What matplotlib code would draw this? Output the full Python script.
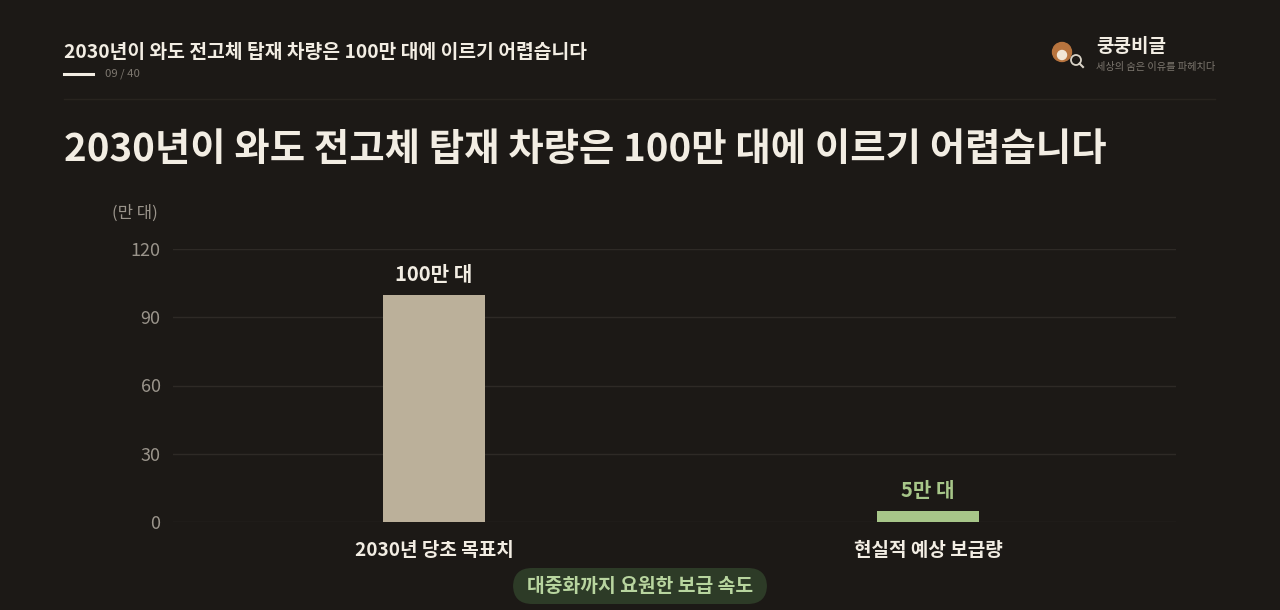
import matplotlib
matplotlib.use("Agg")
import matplotlib.pyplot as plt
from matplotlib.patches import FancyBboxPatch, Ellipse
from matplotlib.lines import Line2D

plt.rcParams['font.family'] = ['Noto Sans CJK KR', 'DejaVu Sans']

# data
categories = ["2030년 당초 목표치", "현실적 예상 보급량"]
values = [100, 5]
value_labels = ["100만 대", "5만 대"]
yticks = [0, 30, 60, 90, 120]

bg = "#1c1916"
bar_colors = ["#bbb09a", "#a7c689"]
label_colors = ["#f2ede3", "#a7c689"]

W, H = 1280, 610
fig = plt.figure(figsize=(W / 100, H / 100), dpi=100, facecolor=bg)


def fx(px):
    return px / W


def fy(py):
    return 1 - py / H


def dot(cx, cy, d, **kw):
    # round mark given in pixels
    fig.add_artist(Ellipse((fx(cx), fy(cy)), d / W, d / H,
                           transform=fig.transFigure, **kw))


# header
fig.text(fx(64), fy(53), "2030년이 와도 전고체 탑재 차량은 100만 대에 이르기 어렵습니다",
         color="#f2ede3", fontsize=13.85, fontweight="bold", va="center", ha="left")
fig.add_artist(Line2D([fx(64), fx(93)], [fy(74), fy(74)], color="#f2ede3", lw=2.2))
fig.text(fx(105), fy(74), "09 / 40", color="#7d776f", fontsize=8.2, va="center", ha="left")
fig.add_artist(Line2D([fx(64), fx(1215)], [fy(99), fy(99)], color="#28241f", lw=1))

# logo
dot(1062, 52, 19, color="#b8743e", zorder=3)
dot(1062, 55, 9, color="#f1e6d6", zorder=4)
dot(1076, 60, 10, fill=False, ec="#d8d2c6", lw=1.3, zorder=5)
fig.add_artist(Line2D([fx(1079.5), fx(1083)], [fy(63.5), fy(67)], color="#d8d2c6", lw=1.5))
fig.text(fx(1096), fy(46), "쿵쿵비글", color="#f2ede3", fontsize=13.7,
         fontweight="bold", va="center", ha="left")
fig.text(fx(1096), fy(67), "세상의 숨은 이유를 파헤치다", color="#7d776f",
         fontsize=7.3, va="center", ha="left")

# main title
fig.text(fx(64), fy(149), "2030년이 와도 전고체 탑재 차량은 100만 대에 이르기 어렵습니다",
         color="#f2ede3", fontsize=27.7, fontweight="bold", va="center", ha="left")

# chart
ax = fig.add_axes([fx(173), fy(522), fx(1176) - fx(173), (522 - 249) / H])
ax.set_facecolor(bg)
x = range(len(categories))
bars = ax.bar(x, values, width=0.206, color=bar_colors, zorder=3)
for i, (v, lab) in enumerate(zip(values, value_labels)):
    ax.annotate(lab, (i, v), xytext=(0, 7), textcoords="offset points",
                ha="center", va="bottom", color=label_colors[i],
                fontsize=14.5, fontweight="bold")
ax.set_xlim(-0.528, 1.502)
ax.set_ylim(0, 120)
ax.set_yticks(yticks)
ax.set_yticklabels([str(t) for t in yticks])
ax.set_xticks(list(x))
ax.set_xticklabels(categories)
ax.grid(axis="y", color="#2e2a26", lw=1, zorder=0)
for s in ax.spines.values():
    s.set_visible(False)
ax.tick_params(axis="y", length=0, pad=9, labelsize=13, labelcolor="#9a948b")
ax.tick_params(axis="x", length=0, pad=14, labelsize=13.7, labelcolor="#f2ede3")
for t in ax.get_xticklabels():
    t.set_fontweight("bold")

fig.text(fx(112), fy(213), "(만 대)", color="#9a948b", fontsize=12, va="center", ha="left")

# badge
badge = FancyBboxPatch((fx(513), fy(604)), fx(767) - fx(513), (604 - 568) / H,
                       boxstyle="round,pad=0,rounding_size=0.015",
                       transform=fig.transFigure, fc="#2d3b27", ec="none",
                       mutation_aspect=W / H)
fig.add_artist(badge)
fig.text(fx(640), fy(586), "대중화까지 요원한 보급 속도", color="#b8d59f",
         fontsize=13.9, fontweight="bold", va="center", ha="center")

fig.savefig("out.png", dpi=100, facecolor=bg)
